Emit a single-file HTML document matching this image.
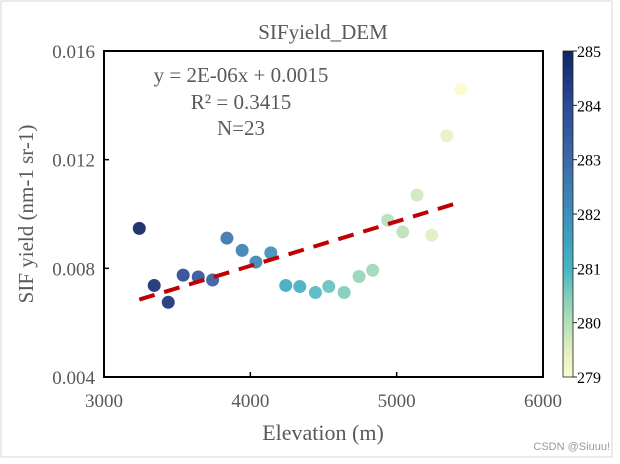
<!DOCTYPE html>
<html><head><meta charset="utf-8"><style>
body{margin:0;background:#fff;}
svg text{font-family:"Liberation Serif",serif;}
</style></head><body>
<svg width="620" height="459" xmlns="http://www.w3.org/2000/svg">
<defs>
<linearGradient id="cb" x1="0" y1="1" x2="0" y2="0">
<stop offset="0" stop-color="#fbfbcf"/><stop offset="0.0833" stop-color="#e0f0c0"/><stop offset="0.1667" stop-color="#b3dfb8"/><stop offset="0.25" stop-color="#80ccbb"/><stop offset="0.3333" stop-color="#45b4c4"/><stop offset="0.4167" stop-color="#3fa2c0"/><stop offset="0.5" stop-color="#3f8fb9"/><stop offset="0.6667" stop-color="#3b6aa8"/><stop offset="0.8333" stop-color="#2c4a96"/><stop offset="1" stop-color="#102566"/>
</linearGradient>
</defs>
<rect x="1" y="1" width="611" height="456" fill="#fff" stroke="#d4d4d4"/>
<text x="323" y="39" font-size="21" text-anchor="middle" fill="#595959">SIFyield_DEM</text>
<g id="plot"></g>
<text x="323" y="440" font-size="22" text-anchor="middle" fill="#595959">Elevation (m)</text>
<text transform="translate(33,214) rotate(-90)" font-size="21" text-anchor="middle" fill="#595959">SIF yield (nm-1 sr-1)</text>
<text x="241" y="82" font-size="21" text-anchor="middle" fill="#595959">y = 2E-06x + 0.0015</text>
<text x="241" y="109" font-size="21" text-anchor="middle" fill="#595959">R² = 0.3415</text>
<text x="241" y="135" font-size="21" text-anchor="middle" fill="#595959">N=23</text>
<rect x="563" y="51" width="10" height="326" fill="url(#cb)" stroke="#222" stroke-width="0.8"/>
<g id="cbticks"></g>
<text x="610" y="450" font-size="11" text-anchor="end" fill="#999" style="font-family:'Liberation Sans',sans-serif">CSDN @Siuuu!</text>
</svg>
<script>
const elev=[3241,3343,3439,3541,3644,3742,3840,3944,4038,4140,4242,4338,4445,4536,4641,4743,4836,4939,5041,5139,5239,5343,5439];
const sif=[0.00947,0.00737,0.00675,0.00775,0.00768,0.00757,0.00911,0.00866,0.00823,0.00857,0.00737,0.00733,0.00711,0.00733,0.00711,0.00770,0.00793,0.00977,0.00934,0.01070,0.00922,0.01288,0.01459];
const temp=[285,284.7,284.6,284.0,283.7,283.4,282.7,282.4,282.3,282.0,281.3,281.1,280.9,280.7,280.5,280.3,280.2,280.0,279.9,279.7,279.5,279.4,279.0];
const xTicks=[3000,4000,5000,6000];
const yTicks=[0.004,0.008,0.012,0.016];
const cTicks=[279,280,281,282,283,284,285];
const slope=1.635e-6, intercept=0.00155;
const L=104,R=543,T=51,B=377;
const X=v=>L+(v-3000)/3000*(R-L);
const Y=v=>B-(v-0.004)/0.012*(B-T);
const CY=v=>377-(v-279)/6*326;
const stopT=[279,279.5,280,280.5,281,281.5,282,283,284,285];
const stopC=[[251,251,207],[224,240,192],[179,223,184],[128,204,187],[69,180,196],[63,162,192],[63,143,185],[59,106,168],[44,74,150],[16,37,102]];
function cmap(t){let i=0;while(i<stopT.length-2&&t>stopT[i+1])i++;let u=(t-stopT[i])/(stopT[i+1]-stopT[i]);u=Math.max(0,Math.min(1,u));const a=stopC[i],b=stopC[i+1];return `rgb(${a.map((c,k)=>Math.round(c+(b[k]-c)*u)).join(',')})`;}
const NS='http://www.w3.org/2000/svg';
const g=document.getElementById('plot');
function mk(tag,at,par){const e=document.createElementNS(NS,tag);for(const k in at)e.setAttribute(k,at[k]);(par||g).appendChild(e);return e;}
const frame=mk('rect',{x:L,y:T,width:R-L,height:B-T,fill:'none',stroke:'#000','stroke-width':2});


xTicks.forEach(v=>{
 const l=mk('line',{x1:X(v),x2:X(v),y1:B,y2:B-5,stroke:'#000','stroke-width':1.5});
 
 
 const t=mk('text',{x:X(v),y:B+30,'font-size':19,'text-anchor':'middle',fill:'#595959'});t.textContent=v;
 
 
});
yTicks.forEach(v=>{
 const l=mk('line',{x1:L,x2:L+5,y1:Y(v),y2:Y(v),stroke:'#000','stroke-width':1.5});
 
 
 const t=mk('text',{x:L-9,y:Y(v)+7,'font-size':19,'text-anchor':'end',fill:'#595959'});t.textContent=v.toFixed(3);
 
 
});
elev.forEach((e,i)=>{
 const c=mk('circle',{cx:X(e),cy:Y(sif[i]),r:6.5,fill:cmap(temp[i]),'fill-opacity':0.92});
 
 
});
const x0=elev[0],x1=elev[elev.length-1];
const tl=mk('line',{x1:X(x0),y1:Y(slope*x0+intercept),x2:X(x1),y2:Y(slope*x1+intercept),stroke:'#c00000','stroke-width':4,'stroke-dasharray':'16,10'});


const cg=document.getElementById('cbticks');
cTicks.forEach(v=>{
 const l=mk('line',{x1:573,x2:577,y1:CY(v),y2:CY(v),stroke:'#222'},cg);
 
 
 const t=mk('text',{x:577,y:CY(v)+6,'font-size':16,fill:'#000'},cg);t.textContent=v;
 
 
});
</script>
</body></html>
